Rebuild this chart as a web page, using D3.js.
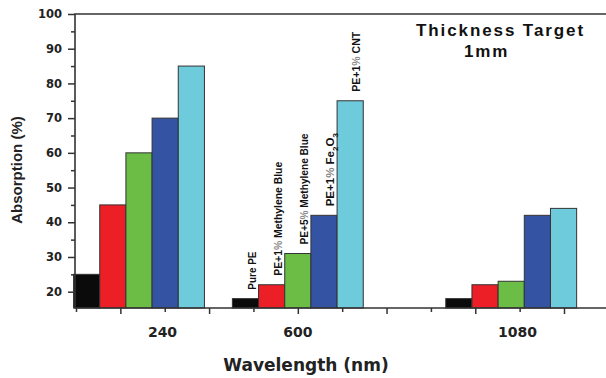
<!DOCTYPE html>
<html>
<head>
<meta charset="utf-8">
<script src="https://cdn.jsdelivr.net/npm/d3@7"></script>
<style>
  body { margin: 0; background: #fff; }
  svg { display: block; }
</style>
</head>
<body>
<svg id="chart" width="606" height="378"></svg>
<script>
(function() {

// data
var wavelengths = ["240", "600", "1080"];
var samples = ["Pure PE", "PE+1% Methylene Blue", "PE+5% Methylene Blue", "PE+1% Fe2O3", "PE+1% CNT"];
var pure_pe   = [25, 18, 18];
var mb_1      = [45, 22, 22];
var mb_5      = [60, 31, 23];
var fe2o3_1   = [70, 42, 42];
var cnt_1     = [85, 75, 44];
var series = [pure_pe, mb_1, mb_5, fe2o3_1, cnt_1];
// where each group sits / its label sits on the x axis (axis units)
var group_at = [1.42, 5.0, 9.81];
var label_at = [1.95, 5.0, 9.95];
var y_major = [20, 30, 40, 50, 60, 70, 80, 90, 100];
var y_minor = [25, 35, 45, 55, 65, 75, 85, 95];
var x_major = [1, 3, 5, 7, 9, 11];
var x_minor = [0, 2, 4, 6, 8, 10];

var colors = ["#0b0b0b", "#ec1f27", "#6bbd46", "#3453a3", "#6ecbdb"];

var svg = d3.select("#chart");
var left = 75, right = 620, top = 14, bottom = 308;

var x = d3.scaleLinear().domain([0, 11]).range([76, 564]);
var y = d3.scaleLinear().domain([15.3, 100]).range([bottom, top]);
var bw = 0.59;

// bars
var bars = [];
series.forEach(function(vals, s) {
    vals.forEach(function(v, g) {
        bars.push({s: s, g: g, v: v, x0: group_at[g] + (s - 2.5) * bw});
    });
});

svg.append("g").selectAll("rect")
    .data(bars)
    .join("rect")
    .attr("x", d => x(d.x0))
    .attr("y", d => y(d.v))
    .attr("width", d => x(d.x0 + bw) - x(d.x0))
    .attr("height", d => y.range()[0] - y(d.v))
    .attr("fill", d => colors[d.s])
    .attr("stroke", "#333")
    .attr("stroke-width", 1);

// rotated sample names over the 600 nm group
var lbl = svg.append("g")
    .attr("font-family", "'Liberation Sans Narrow', 'Arial Narrow', 'Liberation Sans', Arial, sans-serif")
    .attr("font-weight", "bold")
    .attr("font-size", 11.5)
    .attr("fill", "#111");

var lens = [38, 114, 111, 60, 60];
bars.filter(d => d.g == 1).forEach(function(d) {
    var bx = x(d.x0 + bw) - 3;
    var by = y(d.v) - 9;
    var t = lbl.append("text")
        .attr("transform", "translate(" + bx + "," + by + ") rotate(-90)");
    var name = samples[d.s];
    if (name.indexOf("%") < 0) {
        t.text(name).attr("textLength", lens[d.s]).attr("lengthAdjust", "spacingAndGlyphs");
        return;
    }
    var parts = name.split("%");
    t.append("tspan").text(parts[0]);
    t.append("tspan").text("%").attr("fill", "#888");
    if (parts[1].indexOf("Fe2O3") >= 0) {
        t.append("tspan").text(" Fe");
        t.append("tspan").text("2").attr("font-size", 8).attr("dy", 4);
        t.append("tspan").text("O").attr("dy", -4);
        t.append("tspan").text("3").attr("font-size", 8).attr("dy", 4);
    } else {
        t.append("tspan").text(parts[1]);
        t.attr("textLength", lens[d.s]).attr("lengthAdjust", "spacingAndGlyphs");
    }
});

// y axis
var y_ax = svg.append("g").attr("transform", "translate(" + left + ",0)");
y_ax.call(d3.axisLeft(y).tickValues(y_major).tickSize(7).tickPadding(6).tickSizeOuter(0));
y_ax.append("g").call(d3.axisLeft(y).tickValues(y_minor).tickSize(4).tickFormat("").tickSizeOuter(0))
    .select(".domain").remove();
y_ax.selectAll(".domain").remove();
y_ax.selectAll("line").attr("stroke", "#333").attr("stroke-width", 1.5);
y_ax.selectAll("text")
    .attr("font-family", "'DejaVu Sans', Verdana, sans-serif")
    .attr("font-weight", "bold")
    .attr("font-size", 11.5)
    .attr("fill", "#222");

// x axis ticks
var x_ax = svg.append("g").attr("transform", "translate(0," + bottom + ")");
x_ax.call(d3.axisBottom(x).tickValues(x_major).tickSize(6).tickFormat("").tickSizeOuter(0));
x_ax.append("g").call(d3.axisBottom(x).tickValues(x_minor).tickSize(4).tickFormat("").tickSizeOuter(0));
x_ax.selectAll(".domain").remove();
x_ax.selectAll("line").attr("stroke", "#333").attr("stroke-width", 1.5);

svg.append("g").selectAll("text")
    .data(wavelengths)
    .join("text")
    .attr("x", (d, i) => x(label_at[i]))
    .attr("y", 337)
    .attr("text-anchor", "middle")
    .attr("font-family", "'DejaVu Sans', Verdana, sans-serif")
    .attr("font-weight", "bold")
    .attr("font-size", 14)
    .attr("fill", "#222")
    .text(d => d);

// frame lines
svg.append("path")
    .attr("d", "M" + right + "," + top + "H" + left + "V" + bottom + "H" + right)
    .attr("fill", "none")
    .attr("stroke", "#333")
    .attr("stroke-width", 1.6);

// axis titles
svg.append("text")
    .attr("transform", "translate(22,170) rotate(-90)")
    .attr("text-anchor", "middle")
    .attr("font-family", "'Liberation Sans', Arial, sans-serif")
    .attr("font-weight", "bold")
    .attr("font-size", 15)
    .attr("fill", "#222")
    .text("Absorption (%)");

svg.append("text")
    .attr("x", 306)
    .attr("y", 371)
    .attr("text-anchor", "middle")
    .attr("font-family", "'DejaVu Sans', Verdana, sans-serif")
    .attr("font-weight", "bold")
    .attr("font-size", 17)
    .attr("fill", "#222")
    .text("Wavelength (nm)");

// note
var note = svg.append("g")
    .attr("font-family", "'Liberation Sans', Arial, sans-serif")
    .attr("font-weight", "bold")
    .attr("font-size", 17)
    .attr("letter-spacing", 1.9)
    .attr("fill", "#111");
note.append("text").attr("x", 416).attr("y", 36).text("Thickness Target");
note.append("text").attr("x", 464).attr("y", 57).text("1mm");

})()
</script>
</body>
</html>
